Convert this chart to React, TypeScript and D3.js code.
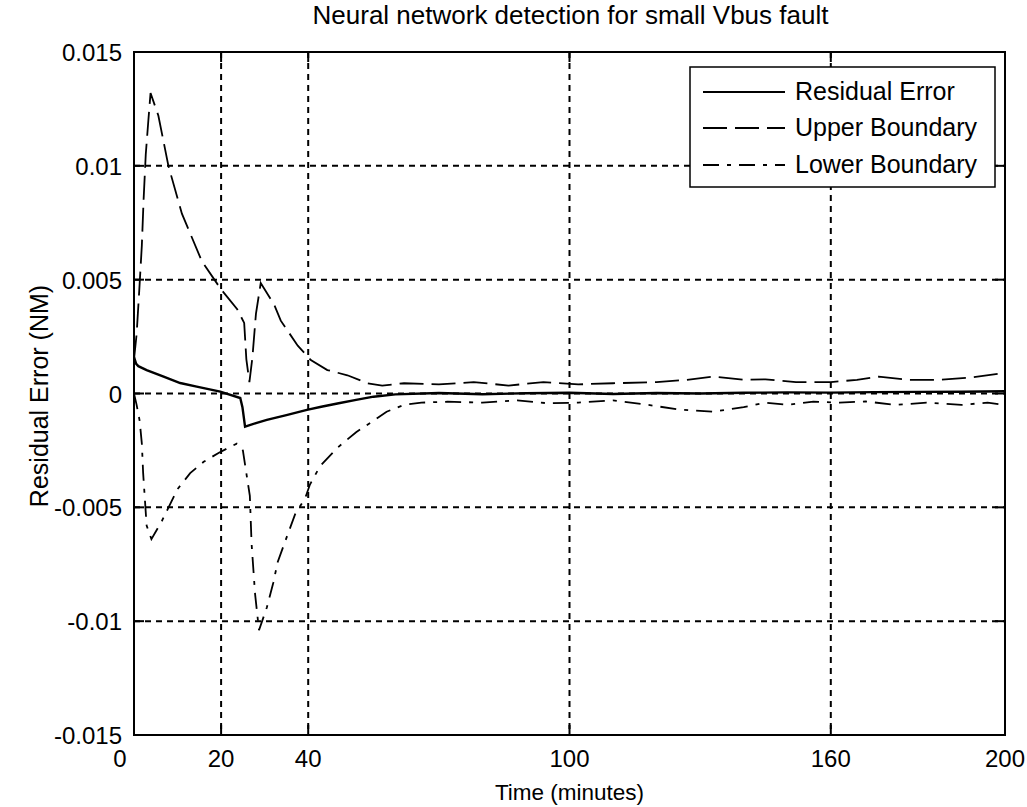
import React from "react";
import * as d3 from "d3";

const W = 1027;
const H = 807;

const xDomain = [0, 200];
const yDomain = [-0.015, 0.015];
const xTicks = [0, 20, 40, 100, 160, 200];
const xTickLabels = ["0", "20", "40", "100", "160", "200"];
const yTicks = [-0.015, -0.01, -0.005, 0, 0.005, 0.01, 0.015];
const yTickLabels = ["-0.015", "-0.01", "-0.005", "0", "0.005", "0.01", "0.015"];

const titleText = "Neural network detection for small Vbus fault";
const xLabelText = "Time (minutes)";
const yLabelText = "Residual Error (NM)";
const seriesNames = ["Residual Error", "Upper Boundary", "Lower Boundary"];

const residualT = [0, 0.5, 1, 2.9, 6.8, 10.6, 14.4, 19.8, 24.4, 24.9, 25.5, 28, 30.5, 35, 39.7, 43, 47, 51, 55, 60, 70, 80, 90, 100, 110, 120, 130, 140, 150, 160, 170, 180, 190, 200];
const residualV = [0.0016, 0.0013, 0.0012, 0.00103, 0.00074, 0.00046, 0.0003, 0.00008, -0.0002, -0.0006, -0.00146, -0.0013, -0.00116, -0.00095, -0.00072, -0.00058, -0.00043, -0.00028, -0.00014, -0.00004, 0.00002, -0.00003, 0.00001, 0.00003, -0.00002, 0.00002, 0.0, 0.00003, 0.00005, 0.00004, 0.00006, 0.00007, 0.00008, 0.0001];

const upperT = [0, 0.6, 1.2, 1.8, 2.2, 2.7, 3.3, 3.8, 5.6, 7.9, 11, 15.6, 19.9, 23.7, 25.3, 25.8, 26.5, 27.2, 28, 29.1, 32.2, 33.7, 37.6, 40.6, 44.4, 49, 53.6, 57, 62, 70, 78, 86, 94, 102, 110, 120, 127, 133, 140, 145, 152, 160, 166, 171, 178, 185, 192, 200];
const upperV = [0.0015, 0.0026, 0.0045, 0.0065, 0.0085, 0.0105, 0.012, 0.0132, 0.0122, 0.01, 0.0079, 0.0058, 0.0046, 0.0037, 0.0031, 0.0015, 0.0005, 0.0016, 0.0035, 0.00485, 0.0039, 0.0032, 0.0021, 0.00147, 0.00103, 0.0008, 0.00045, 0.00035, 0.00045, 0.0004, 0.0005, 0.00035, 0.0005, 0.0004, 0.00045, 0.0005, 0.0006, 0.00074, 0.0006, 0.00062, 0.0005, 0.0005, 0.0006, 0.00074, 0.0006, 0.0006, 0.0007, 0.0009];

const lowerT = [0, 0.6, 1.3, 1.8, 2.1, 2.9, 4.0, 6.4, 10, 12.9, 16, 19.5, 23.6, 25, 26.6, 27, 27.8, 28.7, 30.5, 32, 33, 34.7, 37, 39.3, 40.4, 42.7, 46.6, 51, 55, 58, 62, 66, 72, 80, 88, 95, 102, 110, 118, 125, 133, 140, 145, 150, 156, 162, 168, 175, 182, 190, 196, 200];
const lowerV = [0, -0.0005, -0.0012, -0.0022, -0.0035, -0.0058, -0.0064, -0.0056, -0.0042, -0.0035, -0.003, -0.0026, -0.0022, -0.0025, -0.0045, -0.0066, -0.0088, -0.0104, -0.0094, -0.0083, -0.0074, -0.0065, -0.0053, -0.0046, -0.004, -0.0032, -0.0024, -0.0017, -0.0012, -0.0008, -0.0005, -0.0004, -0.00036, -0.0004, -0.0003, -0.00043, -0.0004, -0.0003, -0.0005, -0.0007, -0.0008, -0.0006, -0.0004, -0.0005, -0.00036, -0.0004, -0.00035, -0.0005, -0.0004, -0.0005, -0.0004, -0.0005];

const LEFT = 134;
const RIGHT = 1005;
const TOP = 52;
const BOTTOM = 735;
const FONT = "'Liberation Sans', Arial, Helvetica, sans-serif";

const x = d3.scaleLinear().domain(xDomain).range([LEFT, RIGHT]);
const y = d3.scaleLinear().domain(yDomain).range([BOTTOM, TOP]);

function zip(t: number[], v: number[]): [number, number][] {
  return t.map((ti, i) => [ti, v[i]]);
}

const line = d3
  .line<[number, number]>()
  .x((d) => x(d[0]))
  .y((d) => y(d[1]));

const dashes = ["none", "24,8", "16,8,4,8"];
const seriesData = [zip(residualT, residualV), zip(upperT, upperV), zip(lowerT, lowerV)];

export default function App() {
  const gridX = xTicks.filter((t) => t > xDomain[0] && t < xDomain[1]);
  const gridY = yTicks.filter((t) => t > yDomain[0] && t < yDomain[1]);
  const tickLen = 10;
  const legX = 690, legY = 67, legW = 305, legH = 120;
  const rowY = [92, 128, 165];
  return (
    <svg
      width={W}
      height={H}
      style={{ position: "absolute", left: 0, top: 0, background: "#fff" }}
      fontFamily={FONT}
    >
      <rect x={0} y={0} width={W} height={H} fill="#fff" />
      <defs>
        <clipPath id="plotclip">
          <rect x={LEFT} y={TOP} width={RIGHT - LEFT} height={BOTTOM - TOP} />
        </clipPath>
      </defs>
      {/* grid */}
      <g stroke="#000" strokeWidth={2} strokeDasharray="6,5">
        {gridX.map((t) => (
          <line key={"gx" + t} x1={x(t)} x2={x(t)} y1={TOP} y2={BOTTOM} />
        ))}
        {gridY.map((t) => (
          <line key={"gy" + t} x1={LEFT} x2={RIGHT} y1={y(t)} y2={y(t)} />
        ))}
      </g>
      {/* ticks */}
      <g stroke="#000" strokeWidth={2}>
        {xTicks.map((t) => (
          <g key={"tx" + t}>
            <line x1={x(t)} x2={x(t)} y1={BOTTOM} y2={BOTTOM - tickLen} />
            <line x1={x(t)} x2={x(t)} y1={TOP} y2={TOP + tickLen} />
          </g>
        ))}
        {yTicks.map((t) => (
          <g key={"ty" + t}>
            <line x1={LEFT} x2={LEFT + tickLen} y1={y(t)} y2={y(t)} />
            <line x1={RIGHT} x2={RIGHT - tickLen} y1={y(t)} y2={y(t)} />
          </g>
        ))}
      </g>
      {/* data */}
      <g clipPath="url(#plotclip)" fill="none" stroke="#000" strokeWidth={2}>
        {seriesData.map((d, i) => (
          <path key={"s" + i} d={line(d) || ""} strokeDasharray={dashes[i]} strokeWidth={i === 0 ? 2.4 : 1.8} />
        ))}
      </g>
      {/* axes box */}
      <rect x={LEFT} y={TOP} width={RIGHT - LEFT} height={BOTTOM - TOP} fill="none" stroke="#000" strokeWidth={2} />
      {/* tick labels */}
      <g fontSize={24} fill="#000">
        {xTicks.map((t, i) => (
          <text key={"lx" + t} x={x(t) + (i === 0 ? -14 : 0)} y={767} textAnchor="middle">
            {xTickLabels[i]}
          </text>
        ))}
        {yTicks.map((t, i) => (
          <text key={"ly" + t} x={122} y={y(t) + 9} textAnchor="end">
            {yTickLabels[i]}
          </text>
        ))}
      </g>
      {/* title and labels */}
      <text x={(LEFT + RIGHT) / 2 + 1} y={24} textAnchor="middle" fontSize={26} fill="#000">
        {titleText}
      </text>
      <text x={(LEFT + RIGHT) / 2} y={800} textAnchor="middle" fontSize={22.5} fill="#000">
        {xLabelText}
      </text>
      <text transform={`translate(${48},${396}) rotate(-90)`} textAnchor="middle" fontSize={25} fill="#000">
        {yLabelText}
      </text>
      {/* legend */}
      <rect x={legX} y={legY} width={legW} height={legH} fill="#fff" stroke="#000" strokeWidth={1.5} />
      {seriesNames.map((name, i) => (
        <g key={"lg" + i}>
          <line
            x1={703}
            x2={785}
            y1={rowY[i]}
            y2={rowY[i]}
            stroke="#000"
            strokeWidth={1.8}
            strokeDasharray={dashes[i]}
          />
          <text x={795} y={rowY[i] + 8} fontSize={25} fill="#000">
            {name}
          </text>
        </g>
      ))}
    </svg>
  );
}
